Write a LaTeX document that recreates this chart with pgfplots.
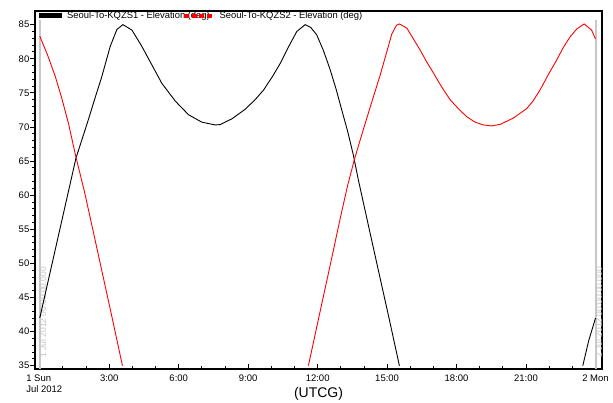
\documentclass[border=0pt]{standalone}
\usepackage{fontspec}
\setmainfont{Liberation Sans}
\usepackage{pgfplots}
\pgfplotsset{compat=1.18}
\definecolor{stkred}{HTML}{FF0000}
\definecolor{markgray}{HTML}{C8C8C8}
\definecolor{marktext}{HTML}{C2C2C2}

\begin{document}
\begin{tikzpicture}
\useasboundingbox (-35pt,-34pt) rectangle (578pt,369pt);
\begin{axis}[
  scale only axis,
  width=567pt, height=358pt,
  xmin=-0.207, xmax=24.28,
  ymin=34.52, ymax=87.0,
  axis line style={black, line width=1.2pt},
  xtick={0,3,...,24},
  xticklabels={{\hspace*{9pt}1 Sun\\\hspace*{9pt}Jul 2012},3:00,6:00,9:00,12:00,15:00,18:00,21:00,2 Mon},
  ytick={35,40,...,85},
  minor x tick num=2,
  minor y tick num=4,
  xtick pos=bottom, ytick pos=left,
  xtick align=inside, ytick align=outside,
  major tick length=5pt, minor tick length=3pt,
  tick style={black, line width=0.9pt},
  /pgf/number format/assume math mode=true,
  tick label style={font=\fontsize{9.5}{11}\selectfont, text=black},
  xticklabel style={align=left, yshift=-2.5pt},
  yticklabel style={inner xsep=0.5pt},
  xlabel={(UTCG)},
  xlabel style={at={(rel axis cs:0.5,0)}, anchor=center, yshift=-25pt, font=\fontsize{14}{16}\selectfont},
  legend columns=-1,
  legend style={at={(rel axis cs:0,1)}, anchor=west, xshift=1pt, yshift=-5pt,
    draw=none, fill=none, inner sep=0pt, font=\fontsize{9.4}{10}\selectfont,
    nodes={inner sep=0pt},
    /tikz/every odd column/.style={column sep=3pt},
    /tikz/every even column/.style={column sep=0pt}},
]
% day boundary markers
\addplot[markgray, line width=2pt, forget plot] coordinates {(0,34.52) (0,85.7)};
\addplot[markgray, line width=2pt, forget plot] coordinates {(24,34.52) (24,85.7)};
\node[rotate=90, anchor=north west, text=marktext, inner sep=0pt, xshift=1.5pt,
  font=\fontsize{8.4}{9}\selectfont] at (axis cs:0,36.0) {1 Jul 2012 00:00:00.000};
\node[rotate=90, anchor=north west, text=marktext, inner sep=0pt, xshift=1.5pt,
  font=\fontsize{8.4}{9}\selectfont] at (axis cs:24,36.0) {2 Jul 2012 00:00:00.000};

% Seoul-To-KQZS1
\addplot[black, line width=0.9pt,
  legend image code/.code={\draw[black, line width=5pt] (0pt,0pt) -- (23pt,0pt);}]
coordinates {
(0.00,42.0) (0.40,48.0) (0.80,54.0) (1.20,60.0) (1.56,65.4) (2.11,71.2)
(2.40,74.4) (2.68,77.4) (3.04,81.8) (3.33,84.3) (3.59,85.0) (3.98,84.2)
(4.41,81.8) (4.84,79.1) (5.27,76.4) (5.85,73.8) (6.42,71.8) (7.00,70.7)
(7.57,70.3) (7.79,70.35) (8.30,71.2) (8.87,72.6) (9.30,74.0) (9.66,75.4)
(10.05,77.4) (10.38,79.3) (10.75,81.8) (11.10,84.0) (11.46,85.0) (11.70,84.6)
(11.96,83.5) (12.25,81.2) (12.54,78.4) (12.80,75.5) (13.04,72.5) (13.30,69.3)
(13.54,65.9) (13.76,62.2) (14.30,53.9) (14.70,47.8) (15.10,41.7) (15.53,35.0)
};
\addlegendentry{\makebox[115pt][l]{Seoul-To-KQZS1 - Elevation (deg)}}
\addplot[black, line width=0.9pt, forget plot] coordinates {
(23.45,35.0) (23.70,38.6) (24.00,42.0)
};

% Seoul-To-KQZS2
\addplot[stkred, line width=0.9pt,
  legend image code/.code={\draw[stkred, line width=4.5pt, dash pattern=on 5pt off 2.5pt] (0pt,0pt) -- (30pt,0pt);}]
coordinates {
(0.00,83.3) (0.33,80.6) (0.67,77.4) (0.95,74.2) (1.24,70.5) (1.56,65.6)
(1.93,60.5) (2.30,54.8) (2.70,48.6) (3.10,42.4) (3.57,35.0)
};
\addlegendentry{Seoul-To-KQZS2 - Elevation (deg)}
\addplot[stkred, line width=0.9pt, forget plot] coordinates {
(11.60,35.0) (12.00,41.3) (12.50,49.1) (13.00,57.0) (13.30,61.5) (13.60,65.4)
(13.97,69.6) (14.35,73.8) (14.70,77.6) (15.00,81.2) (15.20,83.6) (15.40,84.9)
(15.53,85.1) (15.85,84.5) (16.10,83.1) (16.42,81.3) (16.70,79.6) (17.00,77.9)
(17.35,75.9) (17.72,74.0) (18.10,72.6) (18.44,71.5) (18.80,70.7) (19.15,70.3)
(19.52,70.15) (19.90,70.4) (20.45,71.3) (21.03,72.7) (21.30,73.8) (21.60,75.4)
(21.95,77.6) (22.32,79.8) (22.60,81.6) (22.90,83.2) (23.20,84.4) (23.51,85.1)
(23.83,84.2) (24.00,82.9)
};
\end{axis}
\end{tikzpicture}
\end{document}
